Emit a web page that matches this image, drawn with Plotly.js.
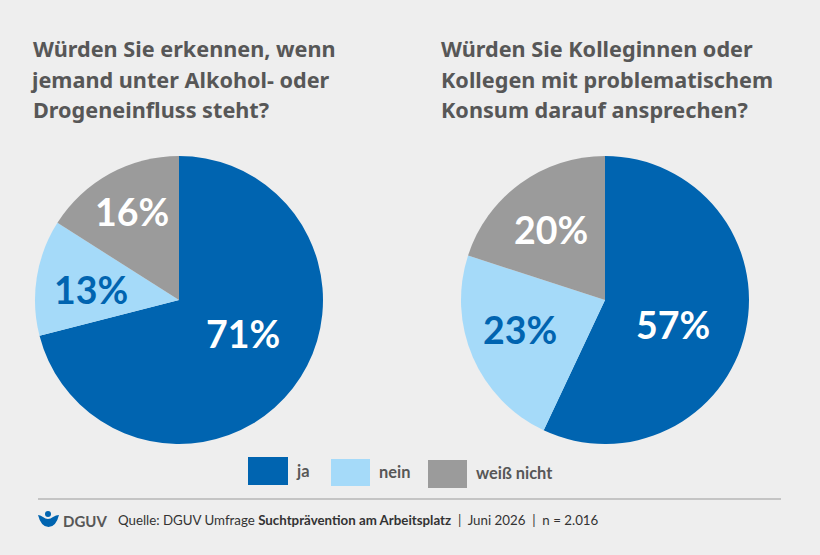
<!DOCTYPE html>
<html><head><meta charset="utf-8">
<script src="https://cdn.plot.ly/plotly-3.0.1.min.js"></script>
<style>html,body{margin:0;padding:0;background:#eeeeee}#c{width:820px;height:555px}</style>
</head><body><div id="c"></div>
<script>
const categories = ["ja","nein","weiß nicht"];
const erkennen = [71,13,16];
const ansprechen = [57,23,20];
const sliceColors = ["#0064b0","#a5daf9","#9b9b9b"];
const labelColors = ["#ffffff","#0064b0","#ffffff"];
const titleLeft = ["Würden Sie erkennen, wenn","jemand unter Alkohol- oder","Drogeneinfluss steht?"];
const titleRight = ["Würden Sie Kolleginnen oder","Kollegen mit problematischem","Konsum darauf ansprechen?"];
const source = "Quelle: DGUV Umfrage <b>Suchtprävention am Arbeitsplatz</b>  |  Juni 2026  |  n = 2.016";
const FONT = 'Lato, sans-serif';
const TITLEFONT = '"Noto Sans", sans-serif';
const W=820,H=555;
const px=x=>x/W, py=y=>1-y/H;
function pie(vals,x0,x1){return {type:"pie",labels:categories,values:vals,sort:false,direction:"clockwise",rotation:0,
  domain:{x:[px(x0),px(x1)],y:[py(444),py(156)]},marker:{colors:sliceColors,line:{width:0}},
  textinfo:"none",showlegend:false,hoverinfo:"label+percent"};}
function note(x,y,text,size,color,weight,anchor,family){return {xref:"paper",yref:"paper",x:px(x),y:py(y),text,showarrow:false,
  xanchor:anchor||"left",yanchor:"middle",align:"left",font:{family:family||FONT,size,color,weight:weight||400}};}
function rect(x0,y0,x1,y1,c){return {type:"rect",xref:"paper",yref:"paper",x0:px(x0),x1:px(x1),y0:py(y0),y1:py(y1),fillcolor:c,line:{width:0}};}
const pctLeft=[[243,333],[91,289],[132,211]], pctRight=[[673,324],[520,329],[551,229]];
const pct=(vals,pos)=>vals.map((v,i)=>note(pos[i][0],pos[i][1],v+"%",37.5,labelColors[i],700,"center"));
const titleLines=(lines,xs)=>lines.map((t,i)=>note(xs[i],[49,79,109][i],t,21.65,"#575757",700,"left",TITLEFONT));
const layout={width:W,height:H,margin:{l:0,r:0,t:0,b:0},paper_bgcolor:"#eeeeee",plot_bgcolor:"#eeeeee",showlegend:false,
 font:{family:FONT},
 shapes:[rect(248,457,288,485,sliceColors[0]),rect(331,459,370,486,sliceColors[1]),rect(428,460,467,488,sliceColors[2]),
  {type:"line",xref:"paper",yref:"paper",x0:px(38),x1:px(781),y0:py(499),y1:py(499),line:{color:"#c4c4c4",width:2}},
  {type:"circle",xref:"paper",yref:"paper",x0:px(45),x1:px(51),y0:py(511),y1:py(517),fillcolor:"#0064b0",line:{width:0}},
  {type:"path",xref:"paper",yref:"paper",path:`M ${px(38)} ${py(515)} Q ${px(40)} ${py(515)} ${px(43)} ${py(517)} Q ${px(48)} ${py(521)} ${px(53)} ${py(517)} Q ${px(56)} ${py(515)} ${px(59)} ${py(515)} Q ${px(56)} ${py(527)} ${px(48.5)} ${py(527)} Q ${px(41)} ${py(527)} ${px(38)} ${py(515)} Z`,fillcolor:"#0064b0",line:{width:0}}],
 annotations:[
  ...titleLines(titleLeft,[30.5,27.5,31]),
  ...titleLines(titleRight,[439,439,439]),
  note(294,470.5,categories[0],16.4,"#575757",700),
  note(377,471.5,categories[1],16.4,"#575757",700),
  note(474,472.5,categories[2],16.4,"#575757",700),
  note(60.5,521,"DGUV",15,"#575757",700),
  note(115.5,520,source,13.3,"#333333",400),
  ...pct(erkennen,pctLeft),...pct(ansprechen,pctRight)
 ]};
Plotly.newPlot("c",[pie(erkennen,35,323),pie(ansprechen,461,749)],layout,{displayModeBar:false,staticPlot:true});
</script></body></html>
